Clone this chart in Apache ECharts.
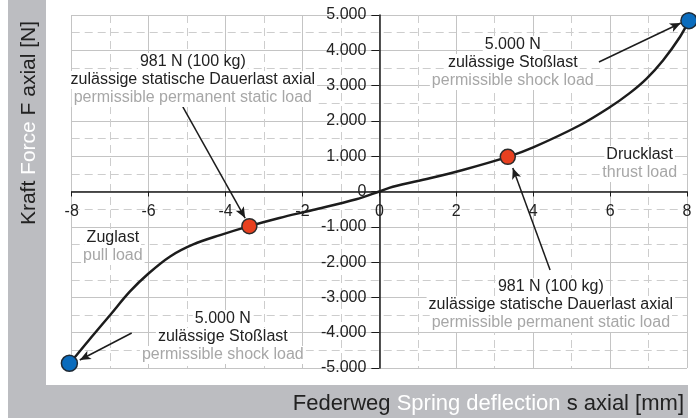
<!DOCTYPE html>
<html>
<head>
<meta charset="utf-8">
<script src="https://cdn.jsdelivr.net/npm/echarts@6/dist/echarts.min.js"></script>
<style>
  html, body { margin: 0; padding: 0; background: #fff; }
  #chart { width: 696px; height: 418px; }
</style>
</head>
<body>
<div id="chart"></div>
<script>
// spring characteristic: deflection s [mm] -> force F [N]
const deflection = [-8.06, -7.87, -7.44, -7.0, -6.49, -6.01, -5.44, -4.84, -4.14, -3.38, -2.6, -1.73, -0.6, 0,
  0.35, 1.31, 2.17, 3.34, 4.0, 5.2, 5.98, 6.5, 6.95, 7.38, 7.82, 8.05]
const force = [-4867, -4632, -4065, -3499, -2838, -2330, -1840, -1500, -1235, -981, -750, -525, -220, 0,
  136, 374, 610, 981, 1250, 1870, 2380, 2780, 3200, 3720, 4385, 4840]

// marked limits
const staticX = [-3.38, 3.34]
const staticF = [-981, 981]
const shockX = [-8.06, 8.05]
const shockF = [-4867, 4840]

// ticks
const xTicks = [-8, -6, -4, -2, 0, 2, 4, 6, 8]
const yTicks = [-5000, -4000, -3000, -2000, -1000, 0, 1000, 2000, 3000, 4000, 5000]

// annotation texts (german line(s) + english line)
const staticDe = ['981 N (100 kg)', 'zulässige statische Dauerlast axial']
const staticEn = 'permissible permanent static load'
const shockDe = ['5.000 N', 'zulässige Stoßlast']
const shockEn = 'permissible shock load'
const pushDe = ['Drucklast']
const pushEn = 'thrust load'
const pullDe = ['Zuglast']
const pullEn = 'pull load'

// layout (data coordinates) for the notes and arrows
const notes = [
  { de: staticDe, en: staticEn, at: [-4.85, 3160] },
  { de: shockDe, en: shockEn, at: [3.47, 3640] },
  { de: pushDe, en: pushEn, at: [6.77, 780] },
  { de: staticDe, en: staticEn, at: [4.46, -3215] },
  { de: pullDe, en: pullEn, at: [-6.93, -1570] },
  { de: shockDe, en: shockEn, at: [-4.07, -4122] }
]
const arrows = [
  [[-5.11, 2394], [-3.49, -751]],
  [[5.71, 3669], [7.84, 4773]],
  [[4.44, -2224], [3.47, 666]],
  [[-6.44, -4008], [-7.79, -4773]]
]

const FONT = '"Liberation Sans", Arial, sans-serif'
const DARK = '#222'
const GRAY_TXT = '#a7a7a7'
const BAND = '#bcbdc1'
const GRID = { left: 71.7, right: 9, top: 15, bottom: 50 }
const W = 696, H = 418

function fmt(v) {
  const s = String(Math.abs(v)).replace(/\B(?=(\d{3})+(?!\d))/g, '.')
  return (v < 0 ? '-' : '') + s
}

const chart = echarts.init(document.getElementById('chart'))

const option = {
  animation: false,
  backgroundColor: '#fff',
  grid: GRID,
  xAxis: {
    type: 'value',
    position: 'bottom',
    min: xTicks[0],
    max: xTicks[xTicks.length - 1],
    interval: xTicks[1] - xTicks[0],
    axisLine: { show: true, onZero: false, lineStyle: { color: '#1a1a1a', width: 1.5 } },
    axisTick: { show: true, length: 5, lineStyle: { color: '#1a1a1a' } },
    axisLabel: { margin: 12, fontSize: 16, fontFamily: FONT, color: DARK },
    splitLine: { show: true, lineStyle: { color: '#c4c4c4' } },
    minorTick: { show: false, splitNumber: 2 },
    minorSplitLine: { show: true, lineStyle: { color: '#cdcdcd', type: [8, 5] } }
  },
  yAxis: {
    type: 'value',
    position: 'left',
    min: yTicks[0],
    max: yTicks[yTicks.length - 1],
    interval: yTicks[1] - yTicks[0],
    axisLine: { show: true, onZero: false, lineStyle: { color: '#1a1a1a', width: 1.5 } },
    axisTick: { show: true, length: 8, lineStyle: { color: '#1a1a1a' } },
    axisLabel: { margin: 13, fontSize: 16, fontFamily: FONT, color: DARK, formatter: fmt },
    splitLine: { show: true, lineStyle: { color: '#c4c4c4' } },
    minorTick: { show: false, splitNumber: 2 },
    minorSplitLine: { show: true, lineStyle: { color: '#cdcdcd', type: [8, 5] } }
  },
  series: [
    {
      type: 'line',
      data: deflection.map((s, i) => [s, force[i]]),
      smooth: 0.35,
      symbol: 'none',
      clip: false,
      z: 3,
      lineStyle: { color: '#1c1c1c', width: 2.5 },
      markLine: {
        silent: true,
        symbol: ['none', 'arrow'],
        symbolSize: [7, 11],
        label: { show: false },
        lineStyle: { color: '#1c1c1c', width: 1.5, type: 'solid' },
        data: arrows.map(a => [{ coord: a[0] }, { coord: a[1] }])
      }
    },
    {
      type: 'scatter',
      data: staticX.map((s, i) => [s, staticF[i]]),
      symbolSize: 15,
      clip: false,
      z: 5,
      itemStyle: { color: '#e8401f', borderColor: '#2b2b2b', borderWidth: 1.5, opacity: 1 }
    },
    {
      type: 'scatter',
      data: shockX.map((s, i) => [s, shockF[i]]),
      symbolSize: 16,
      clip: false,
      z: 5,
      itemStyle: { color: '#0b6cbd', borderColor: '#1f2a35', borderWidth: 1.5, opacity: 1 }
    }
  ]
}

chart.setOption(option)

// move both axes (line, ticks and labels) onto the origin
const origin = chart.convertToPixel({ gridIndex: 0 }, [0, 0])
chart.setOption({
  xAxis: { offset: -((H - GRID.bottom) - origin[1]) },
  yAxis: { offset: -(origin[0] - GRID.left) }
})

const graphic = [
  { type: 'rect', z: 0, shape: { x: 8, y: 0, width: 38, height: 418 }, style: { fill: BAND } },
  { type: 'rect', z: 0, shape: { x: 8, y: 385, width: 680, height: 33 }, style: { fill: BAND } },
  {
    type: 'text', z: 10, x: 29, y: 123, rotation: Math.PI / 2,
    style: {
      text: '{d|Kraft }{w|Force}{d| F axial [N]}',
      rich: { d: { fill: DARK, font: '21px ' + FONT }, w: { fill: '#fff', font: '21px ' + FONT } },
      font: '21px ' + FONT, align: 'center', verticalAlign: 'middle'
    }
  },
  {
    type: 'text', z: 10, x: 684, y: 404,
    style: {
      text: '{d|Federweg }{w|Spring deflection}{d| s axial [mm]}',
      rich: { d: { fill: DARK, font: '22px ' + FONT }, w: { fill: '#fff', font: '22px ' + FONT } },
      font: '22px ' + FONT, align: 'right', verticalAlign: 'middle'
    }
  }
]

notes.forEach(n => {
  const [cx, cy] = chart.convertToPixel({ gridIndex: 0 }, n.at)
  const lines = n.de.concat([n.en])
  lines.forEach((t, i) => {
    graphic.push({
      type: 'text',
      z: 10,
      x: cx,
      y: cy + (i - (lines.length - 1) / 2) * 18,
      style: {
        text: t,
        font: '16px ' + FONT,
        fill: i === lines.length - 1 ? GRAY_TXT : DARK,
        align: 'center',
        verticalAlign: 'middle',
        backgroundColor: '#fff',
        padding: [1, 2]
      }
    })
  })
})

chart.setOption({ graphic: graphic })
</script>
</body>
</html>
